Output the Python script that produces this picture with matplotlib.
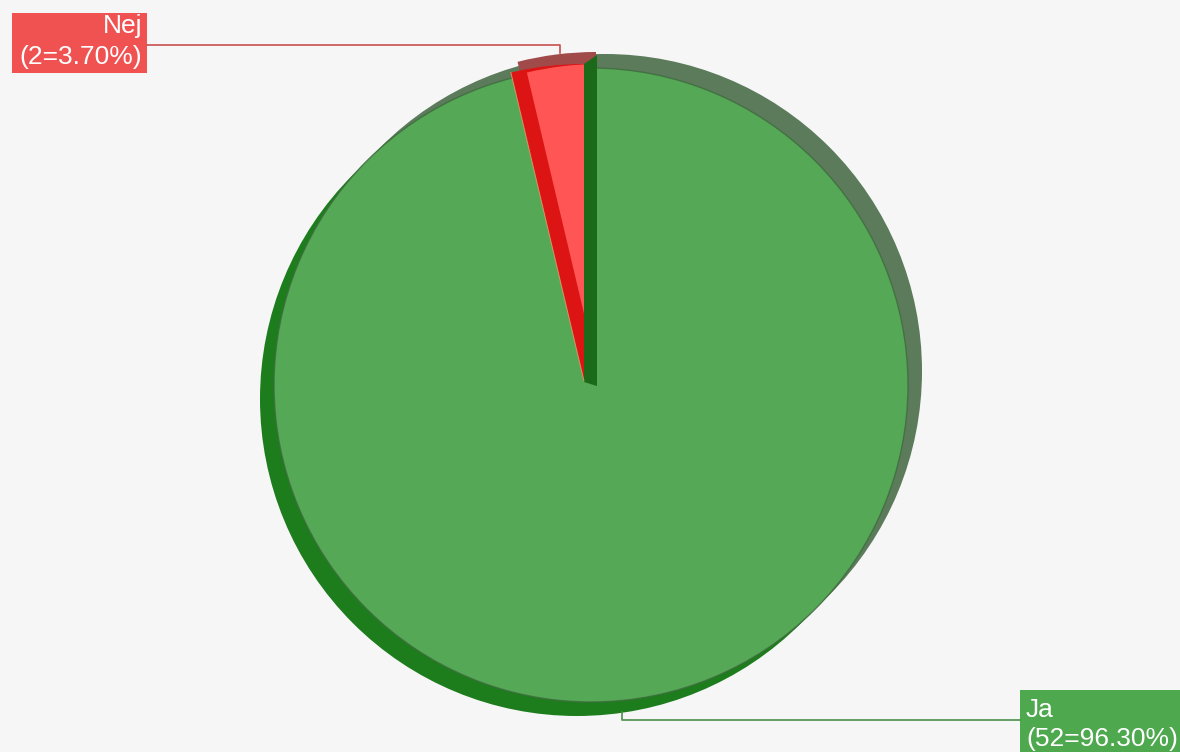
import numpy as np
import matplotlib.pyplot as plt
from matplotlib.patches import Wedge, Polygon, Rectangle, Circle

labels = ['Nej', 'Ja']
counts = [2, 52]
face_colors = ['#ff5555', '#55a855']
box_colors = ['#f05252', '#4ea84e']
line_colors = ['#c85050', '#4a8f4a']

W, H = 1180, 752

def fy(y):
    # pixel row -> axis y
    return H - y

fig = plt.figure(figsize=(11.8, 7.52), dpi=100)
fig.patch.set_facecolor('#f6f6f6')
ax = fig.add_axes([0, 0, 1, 1])
ax.set_facecolor('#f6f6f6')

total = sum(counts)
pct = [100.0 * c / total for c in counts]
sweep = [360.0 * c / total for c in counts]
a0 = 90
a1 = 90 + sweep[0]

R = 317
off = 14
cx, cy = 591, 385

# back discs: lighter side up-right, dark side down-left
grey_c = (cx + off, fy(cy - off))
dark_c = (cx - off, fy(cy + off))
ax.add_patch(Circle(grey_c, R, facecolor='#5b7b5b', edgecolor='none'))
nej_c = (cx - 7, fy(cy - 4))
ax.add_patch(Wedge((nej_c[0] + 12, nej_c[1] + 12), R, a0, a1 + 1, facecolor='#a04a4a',
                   edgecolor='none'))
ax.add_patch(Circle(dark_c, R, facecolor='#1d7d1d', edgecolor='none'))

# front face
wedges, _ = ax.pie(counts, colors=face_colors, startangle=90, counterclock=True,
                   center=(cx, fy(cy)), radius=R, wedgeprops=dict(linewidth=0), frame=True)
ax.add_patch(Circle((cx, fy(cy)), R, facecolor='none', edgecolor='#3f6a3f', lw=1.0, alpha=0.8))

# small slice drawn slightly apart, with its visible side wall
side = Wedge(nej_c, R, a0, a1, facecolor='#dd1414', edgecolor='none')
ax.add_patch(side)
front = Wedge((nej_c[0] + 16, nej_c[1]), R, a0, a1, facecolor=face_colors[0], edgecolor='none')
ax.add_patch(front)
front.set_clip_path(side)
t = np.radians(a1)
ax.plot([nej_c[0], nej_c[0] + R * np.cos(t)], [nej_c[1], nej_c[1] + R * np.sin(t)],
        color='#e8a070', lw=0.7, alpha=0.8)

# side strip of the big slice at the cut
d = 13
ax.add_patch(Polygon([(nej_c[0], nej_c[1] - 1), (nej_c[0], nej_c[1] + R),
                      (nej_c[0] + d, nej_c[1] + R + 9), (nej_c[0] + d, nej_c[1] - 5)],
                     closed=True, facecolor='#1a6a1a', edgecolor='none'))

fnt = dict(color='white', fontsize=19, family=['Liberation Sans', 'DejaVu Sans'],
           va='center')

# Nej label
ax.add_patch(Rectangle((12, fy(73)), 135, 60, facecolor=box_colors[0], edgecolor='none'))
ax.text(142, fy(26), labels[0], ha='right', **fnt)
ax.text(142, fy(57), f'({counts[0]}={pct[0]:.2f}%)', ha='right', **fnt)
ax.plot([147, 560, 560], [fy(45), fy(45), fy(53)], color=line_colors[0], lw=1.2)

# Ja label
ax.add_patch(Rectangle((1020, fy(770)), 170, 80, facecolor=box_colors[1], edgecolor='none'))
ax.text(1026, fy(710), labels[1], ha='left', **fnt)
ax.text(1026, fy(739), f'({counts[1]}={pct[1]:.2f}%)', ha='left', **fnt)
ax.plot([1020, 622, 622], [fy(720), fy(720), fy(712)], color=line_colors[1], lw=1.2)

ax.set_xlim(0, W)
ax.set_ylim(0, H)
ax.set_aspect('auto')
ax.axis('off')

fig.savefig('out.png', dpi=100, facecolor=fig.get_facecolor())
